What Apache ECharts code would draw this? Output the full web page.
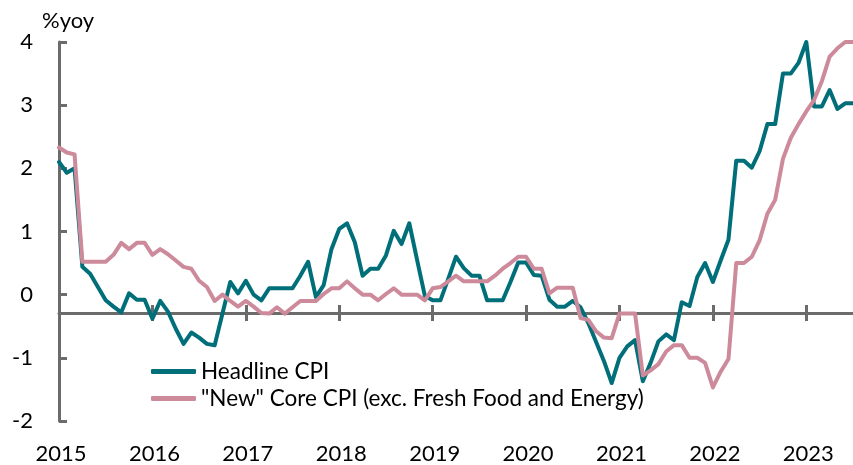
<!DOCTYPE html>
<html>
<head>
<meta charset="utf-8">
<script src="https://cdn.jsdelivr.net/npm/echarts@6/dist/echarts.min.js"></script>
<style>
  html, body { margin: 0; padding: 0; background: #fff; }
  #chart { width: 853px; height: 465px; }
</style>
</head>
<body>
<div id="chart"></div>
<script>
// monthly, Jan 2015 .. Jul 2023, %yoy
var startYear = 2015
var monthCount = 103

var headlineCPI = [
  2.1, 1.93, 2.0, 0.44, 0.33, 0.12, -0.09, -0.19, -0.28, 0.02, -0.08, -0.08,
  -0.38, -0.1, -0.27, -0.54, -0.78, -0.6, -0.68, -0.78, -0.8, -0.3, 0.2, 0.02,
  0.22, 0.0, -0.09, 0.1, 0.1, 0.1, 0.1, 0.3, 0.52, -0.04, 0.15, 0.72,
  1.04, 1.13, 0.83, 0.3, 0.41, 0.41, 0.62, 1.01, 0.8, 1.13, 0.55, -0.02,
  -0.09, -0.09, 0.25, 0.6, 0.42, 0.3, 0.3, -0.09, -0.09, -0.09, 0.2, 0.51,
  0.51, 0.31, 0.3, -0.08, -0.19, -0.19, -0.1, -0.2, -0.45, -0.75, -1.05, -1.4,
  -1.0, -0.82, -0.72, -1.37, -1.08, -0.74, -0.63, -0.72, -0.12, -0.18, 0.28, 0.5,
  0.2, 0.54, 0.87, 2.12, 2.12, 2.01, 2.27, 2.7, 2.7, 3.5, 3.5, 3.67,
  4.0, 2.98, 2.98, 3.24, 2.94, 3.03, 3.03
]

var newCoreCPI = [
  2.33, 2.25, 2.22, 0.52, 0.52, 0.52, 0.52, 0.63, 0.82, 0.72, 0.82, 0.82,
  0.63, 0.72, 0.64, 0.54, 0.44, 0.41, 0.22, 0.12, -0.1, 0.0, -0.1, -0.19,
  -0.1, -0.19, -0.29, -0.3, -0.2, -0.3, -0.2, -0.1, -0.1, -0.1, 0.01, 0.1,
  0.1, 0.21, 0.1, 0.0, 0.0, -0.09, 0.01, 0.1, 0.0, 0.0, 0.0, -0.09,
  0.1, 0.12, 0.21, 0.3, 0.21, 0.21, 0.21, 0.21, 0.3, 0.41, 0.5, 0.6,
  0.6, 0.41, 0.41, 0.02, 0.11, 0.11, 0.11, -0.37, -0.4, -0.58, -0.68, -0.69,
  -0.3, -0.3, -0.3, -1.28, -1.2, -1.1, -0.9, -0.8, -0.8, -1.0, -1.0, -1.08,
  -1.47, -1.22, -1.02, 0.5, 0.5, 0.6, 0.86, 1.28, 1.5, 2.15, 2.48, 2.7,
  2.9, 3.08, 3.38, 3.77, 3.9, 4.0, 4.0
]

var seriesNames = ['Headline CPI', '"New" Core CPI (exc. Fresh Food and Energy)']
var seriesColors = ['#006f79', '#cc8a9b']

var yMin = -2
var yMax = 4
var yStep = 1
var xAxisCrossAt = -0.3 // horizontal axis sits at -0.3, not 0

var categories = []
for (var i = 0; i < monthCount; i++) {
  var y = startYear + Math.floor(i / 12)
  var m = (i % 12) + 1
  categories.push(y + '-' + (m < 10 ? '0' + m : m))
}

var font = 'Lato, "Noto Sans", sans-serif'
var axisGray = '#6b6b6b'
var gridTop = 42
var gridBottom = 42
var gridHeight = 465 - gridTop - gridBottom
var crossOffset = -((xAxisCrossAt - yMin) / (yMax - yMin)) * gridHeight

function isYearStart(index) {
  return index % 12 === 0
}

var chart = echarts.init(document.getElementById('chart'))

chart.setOption({
  animation: false,
  color: seriesColors,
  title: {
    text: '%yoy',
    left: 42,
    top: 10,
    padding: 0,
    textStyle: { fontFamily: font, fontSize: 22, fontWeight: 'normal', color: '#000' }
  },
  legend: {
    orient: 'vertical',
    left: 146,
    top: 355,
    itemWidth: 45,
    itemHeight: 5,
    itemGap: 4,
    icon: 'roundRect',
    textStyle: { fontFamily: font, fontSize: 22.5, color: '#000' },
    data: seriesNames
  },
  grid: {
    left: 59,
    right: 0,
    top: gridTop,
    bottom: gridBottom,
    containLabel: false
  },
  xAxis: [
    {
      type: 'category',
      data: categories,
      boundaryGap: false,
      position: 'bottom',
      offset: crossOffset,
      axisLine: { show: true, onZero: false, lineStyle: { color: axisGray, width: 3 } },
      axisTick: { show: true, length: 8, interval: isYearStart, lineStyle: { color: axisGray, width: 3 } },
      axisLabel: {
        show: true,
        interval: isYearStart,
        margin: 130,
        padding: [0, 0, 0, 4],
        fontFamily: font,
        fontSize: 22,
        color: '#000',
        formatter: function (val) { return val.slice(0, 4) }
      },
      splitLine: { show: false }
    },
    {
      type: 'category',
      data: categories,
      boundaryGap: false,
      position: 'bottom',
      offset: crossOffset,
      axisLine: { show: false, onZero: false },
      axisTick: { show: true, inside: true, length: 8, interval: isYearStart, lineStyle: { color: axisGray, width: 3 } },
      axisLabel: { show: false },
      splitLine: { show: false }
    }
  ],
  yAxis: {
    type: 'value',
    min: yMin,
    max: yMax,
    interval: yStep,
    axisLine: { show: true, lineStyle: { color: axisGray, width: 3 } },
    axisTick: { show: true, inside: true, length: 8, lineStyle: { color: axisGray, width: 3 } },
    axisLabel: { margin: 26, fontFamily: font, fontSize: 22, color: '#000' },
    splitLine: { show: false }
  },
  series: [
    {
      name: seriesNames[0],
      type: 'line',
      xAxisIndex: 0,
      data: headlineCPI,
      symbol: 'none',
      lineStyle: { width: 4, join: 'round', cap: 'round' }
    },
    {
      name: seriesNames[1],
      type: 'line',
      xAxisIndex: 0,
      data: newCoreCPI,
      symbol: 'none',
      lineStyle: { width: 4, join: 'round', cap: 'round' }
    }
  ]
})
</script>
</body>
</html>
